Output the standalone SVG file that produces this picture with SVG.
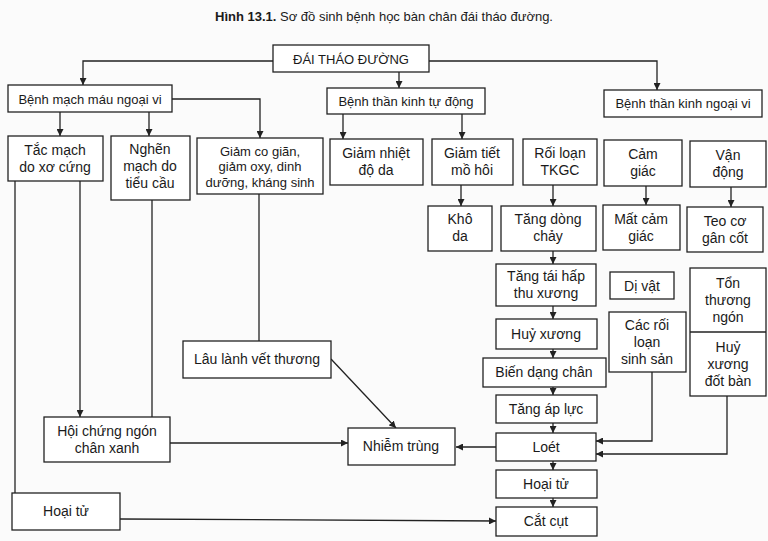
<svg xmlns="http://www.w3.org/2000/svg" width="768" height="541" viewBox="0 0 768 541">
<style>
rect{fill:#fff;stroke:#222;stroke-width:1.3}
text{font-family:"Liberation Sans",Arial,sans-serif;font-size:14px;fill:#1a1a1a;text-anchor:middle}
.s{font-size:13px}
.c path,.c line{fill:none;stroke:#222;stroke-width:1.3}
</style>
<defs><marker id="a" viewBox="0 0 10 10" refX="10" refY="5" markerWidth="7" markerHeight="7" orient="auto" markerUnits="userSpaceOnUse"><path d="M0,0L10,5L0,10z" fill="#222"/></marker></defs>
<rect x="0" y="0" width="768" height="541" style="fill:#fbfbfb;stroke:none"/>
<text x="384" y="21" style="font-size:13px"><tspan font-weight="bold">Hình 13.1.</tspan> Sơ đồ sinh bệnh học bàn chân đái tháo đường.</text>
<g class="c">
<path d="M273,61H83V85" marker-end="url(#a)"/>
<path d="M429,61H657V90" marker-end="url(#a)"/>
<path d="M399,72V88" marker-end="url(#a)"/>
<path d="M60,112V136" marker-end="url(#a)"/>
<path d="M149,112V136" marker-end="url(#a)"/>
<path d="M172,99H260V138" marker-end="url(#a)"/>
<path d="M343,114V139" marker-end="url(#a)"/>
<path d="M462,114V139" marker-end="url(#a)"/>
<path d="M461,185V206" marker-end="url(#a)"/>
<path d="M553,185V206" marker-end="url(#a)"/>
<path d="M646,186V205" marker-end="url(#a)"/>
<path d="M731,187V207" marker-end="url(#a)"/>
<path d="M553,251V264" marker-end="url(#a)"/>
<path d="M553,306V319" marker-end="url(#a)"/>
<path d="M553,349V358" marker-end="url(#a)"/>
<path d="M553,387V395" marker-end="url(#a)"/>
<path d="M553,423V433" marker-end="url(#a)"/>
<path d="M553,461V470" marker-end="url(#a)"/>
<path d="M553,498V507" marker-end="url(#a)"/>
<path d="M652,372V441H596" marker-end="url(#a)"/>
<path d="M727,396V454H596" marker-end="url(#a)"/>
<path d="M496,447H456" marker-end="url(#a)"/>
<path d="M15,181V493"/>
<path d="M80,181V417" marker-end="url(#a)"/>
<path d="M152,200V417"/>
<path d="M259,194V341"/>
<path d="M170,443H348" marker-end="url(#a)"/>
<path d="M331,359L396,428" marker-end="url(#a)"/>
<path d="M120,519L496,521" marker-end="url(#a)"/>
</g>
<g id="dtd"><rect x="273" y="45" width="156" height="27"/><text x="351" y="64" class="s">ĐÁI THÁO ĐƯỜNG</text></g>
<g id="bmm"><rect x="8" y="85" width="164" height="27"/><text x="90" y="104" class="s">Bệnh mạch máu ngoại vi</text></g>
<g id="btktd"><rect x="327" y="88" width="158" height="26"/><text x="406" y="106" class="s">Bệnh thần kinh tự động</text></g>
<g id="btknv"><rect x="604" y="90" width="158" height="27"/><text x="683" y="108" class="s">Bệnh thần kinh ngoại vi</text></g>
<g id="tacmach"><rect x="8" y="136" width="95" height="45"/><text x="55" y="155">Tắc mạch</text><text x="55" y="172">do xơ cứng</text></g>
<g id="nghen"><rect x="111" y="136" width="79" height="64"/><text x="150" y="154">Nghẽn</text><text x="150" y="171">mạch do</text><text x="150" y="188">tiểu cầu</text></g>
<g id="giamco"><rect x="197" y="138" width="126" height="56"/><text x="260" y="156" class="s">Giảm co giãn,</text><text x="260" y="171" class="s">giảm oxy, dinh</text><text x="260" y="187" class="s">dưỡng, kháng sinh</text></g>
<g id="giamnhiet"><rect x="330" y="139" width="93" height="46"/><text x="376" y="158">Giảm nhiệt</text><text x="376" y="175">độ da</text></g>
<g id="giamtiet"><rect x="432" y="139" width="81" height="46"/><text x="472" y="158">Giảm tiết</text><text x="472" y="175">mồ hôi</text></g>
<g id="tkgc"><rect x="523" y="139" width="74" height="46"/><text x="560" y="158">Rối loạn</text><text x="560" y="175">TKGC</text></g>
<g id="camgiac"><rect x="604" y="140" width="78" height="46"/><text x="643" y="159">Cảm</text><text x="643" y="176">giác</text></g>
<g id="vandong"><rect x="690" y="141" width="76" height="46"/><text x="728" y="160">Vận</text><text x="728" y="177">động</text></g>
<g id="khoda"><rect x="428" y="206" width="64" height="45"/><text x="460" y="224">Khô</text><text x="460" y="241">da</text></g>
<g id="tangdong"><rect x="501" y="206" width="95" height="45"/><text x="548" y="224">Tăng dòng</text><text x="548" y="241">chảy</text></g>
<g id="matcam"><rect x="603" y="205" width="77" height="45"/><text x="641" y="224">Mất cảm</text><text x="641" y="241">giác</text></g>
<g id="teoco"><rect x="687" y="207" width="76" height="45"/><text x="725" y="226">Teo cơ</text><text x="725" y="243">gân cốt</text></g>
<g id="taihap"><rect x="496" y="264" width="100" height="42"/><text x="546" y="281">Tăng tái hấp</text><text x="546" y="298">thu xương</text></g>
<g id="divat"><rect x="610" y="272" width="64" height="27"/><text x="642" y="291">Dị vật</text></g>
<g id="tonthuong"><rect x="690" y="268" width="76" height="128"/><line x1="690" y1="332" x2="766" y2="332" style="stroke:#222;stroke-width:1.3"/><text x="728" y="288">Tổn</text><text x="728" y="305">thương</text><text x="728" y="322">ngón</text><text x="728" y="352">Huỷ</text><text x="728" y="369">xương</text><text x="728" y="386">đốt bàn</text></g>
<g id="huyxuong"><rect x="496" y="319" width="101" height="30"/><text x="546" y="339">Huỷ xương</text></g>
<g id="roiloan"><rect x="609" y="312" width="77" height="60"/><text x="647" y="330">Các rối</text><text x="647" y="347">loạn</text><text x="647" y="364">sinh sản</text></g>
<g id="biendang"><rect x="483" y="358" width="123" height="29"/><text x="544" y="377">Biến dạng chân</text></g>
<g id="apluc"><rect x="496" y="395" width="101" height="28"/><text x="546" y="414">Tăng áp lực</text></g>
<g id="loet"><rect x="496" y="433" width="100" height="28"/><text x="546" y="452">Loét</text></g>
<g id="nhiemtrung"><rect x="348" y="428" width="107" height="37"/><text x="401" y="451">Nhiễm trùng</text></g>
<g id="hoaitu2"><rect x="496" y="470" width="101" height="28"/><text x="546" y="489">Hoại tử</text></g>
<g id="catcut"><rect x="496" y="507" width="101" height="29"/><text x="546" y="526">Cắt cụt</text></g>
<g id="laulanh"><rect x="183" y="341" width="148" height="37"/><text x="257" y="364">Lâu lành vết thương</text></g>
<g id="hoichung"><rect x="44" y="417" width="126" height="45"/><text x="107" y="436">Hội chứng ngón</text><text x="107" y="453">chân xanh</text></g>
<g id="hoaitu1"><rect x="12" y="493" width="108" height="37"/><text x="66" y="516">Hoại tử</text></g>
</svg>
